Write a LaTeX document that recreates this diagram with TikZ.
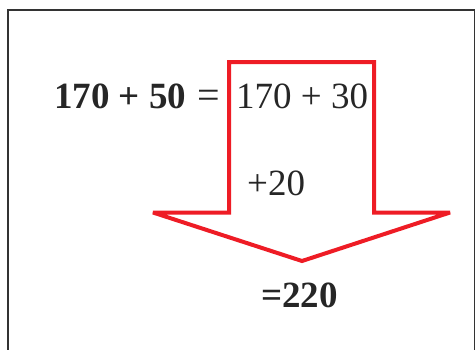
\documentclass[tikz,border=0pt]{standalone}
\usepackage{fontspec}
\setmainfont{Liberation Serif}
\definecolor{arrowred}{HTML}{EE1C25}
\definecolor{framegray}{HTML}{333333}
\begin{document}
\begin{tikzpicture}[x=1pt,y=-1pt,
  txt/.style={inner sep=0pt,anchor=base west,text=black!85,font=\fontsize{37}{42}\selectfont},
  btxt/.style={txt,font=\fontsize{37}{42}\selectfont\bfseries}]
\useasboundingbox (0,0) rectangle (476,349);
\draw[framegray,line width=1.5pt] (8,10) rectangle (474.5,370);
\draw[arrowred,line width=4pt,line join=miter,miter limit=2]
  (229,62) -- (374,62) -- (374,212.5) -- (450,212.5) -- (302,261)
  -- (153,212.5) -- (229,212.5) -- cycle;
\node[btxt] (lhs) at (54,108) {170 + 50};
\node[txt,font=\fontsize{40}{44}\selectfont] (eq) at (197,108) {=};
\node[txt] (rhs) at (236,108) {170 + 30};
\node[txt] (add) at (247,195) {+20};
\node[btxt] (res) at (261,307) {=220};
\end{tikzpicture}
\end{document}
